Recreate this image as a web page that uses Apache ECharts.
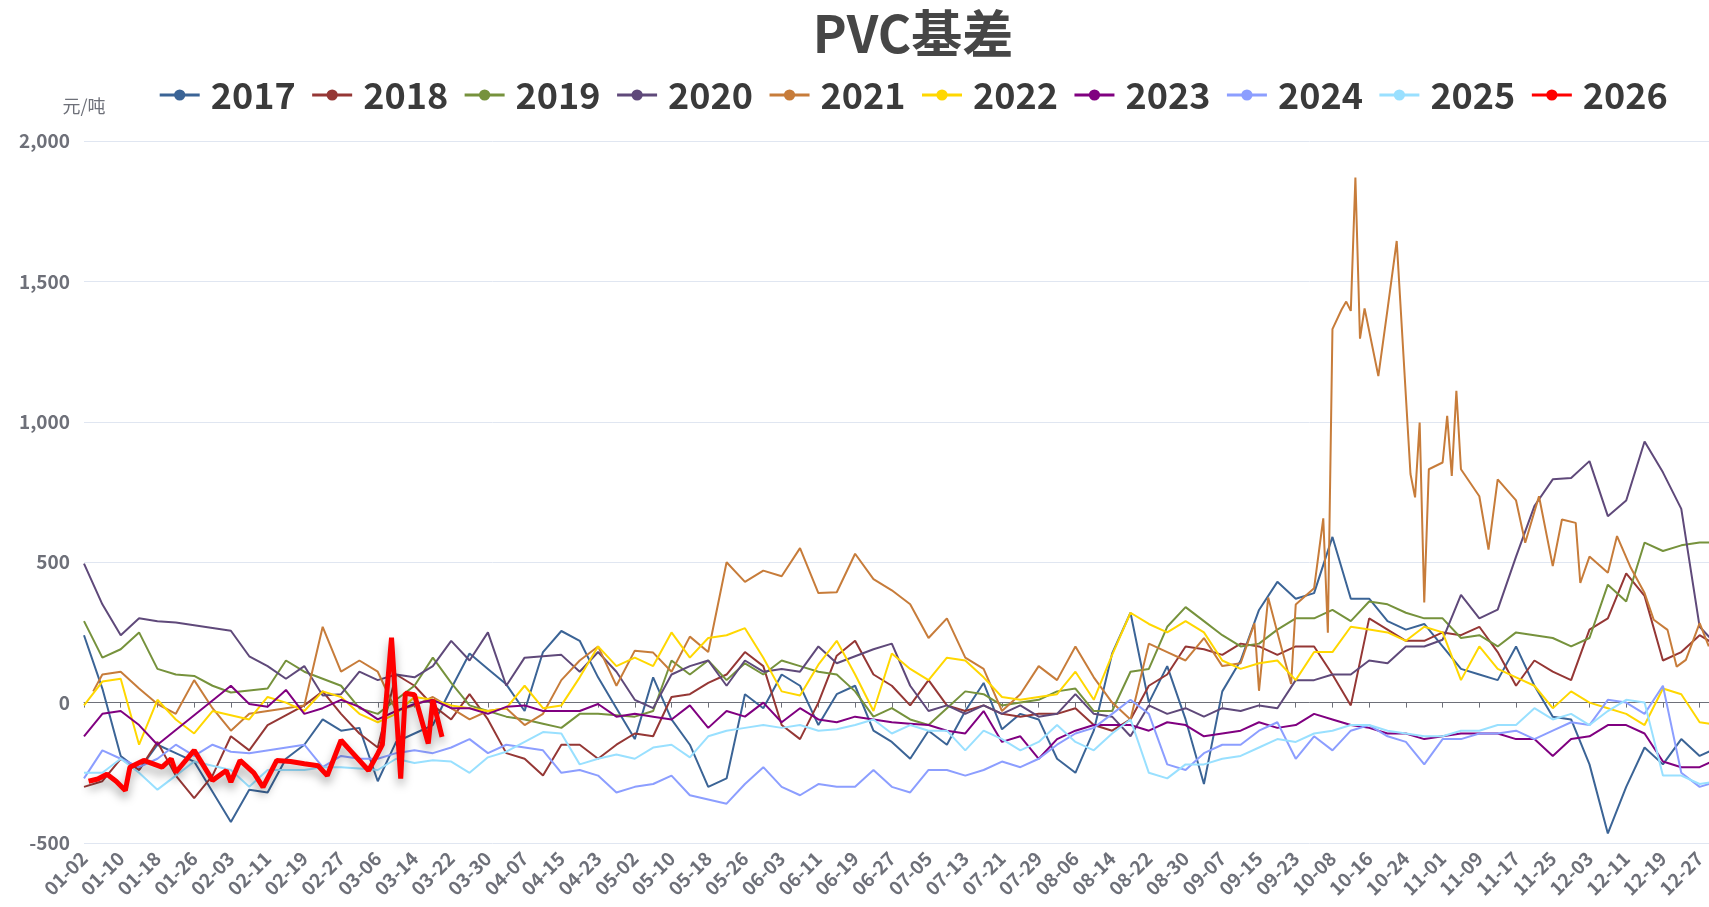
<!DOCTYPE html>
<html>
<head>
<meta charset="utf-8">
<script src="https://cdn.jsdelivr.net/npm/echarts@6/dist/echarts.min.js"></script>
<style>
html,body{margin:0;padding:0;overflow:hidden;background:#fff;}
#c{width:1826px;height:907px;}
</style>
</head>
<body>
<div id="c"></div>
<script>
// ---- categories: calendar days (leap year) without 01-01, 05-01, 10-01..10-07
const pad = n => (n < 10 ? '0' : '') + n;
const categories = [];
for (let d = new Date(2024, 0, 2); d <= new Date(2024, 11, 31); d.setDate(d.getDate() + 1)) {
  const m = d.getMonth() + 1, dd = d.getDate();
  if ((m === 5 && dd === 1) || (m === 10 && dd <= 7)) continue;
  categories.push(pad(m) + '-' + pad(dd));
}
// sampled dates: every 4th category
const sampleDates = categories.filter((c, i) => i % 4 === 0);

const years = ['2017','2018','2019','2020','2021','2022','2023','2024','2025','2026'];
const colors = ['#3B6496','#953735','#76923C','#5F497A','#C77C3A','#FFD700','#800080','#8C9EFF','#99E0FF','#FF0000'];
const yTicks = { min: -500, max: 2000, interval: 500 };

const v2017 = [240,50,-190,-240,-150,-180,-210,null,-425,-310,-320,-200,-150,-60,-100,
-90,-280,-140,-110,-80,50,175,120,65,-30,180,255,220,90,-20,
-130,90,-60,-150,-300,-270,30,-20,100,60,-80,30,60,-100,-140,
-200,-100,-150,-30,70,-95,-40,-60,-200,-250,-100,175,320,0,130,
-60,-290,40,150,330,430,370,390,590,370,370,290,260,280,
200,120,100,80,200,60,-50,-60,-220,-466,-300,-160,-220,-130,-190,-160];

const v2018 = [-300,-280,-200,-240,-140,-260,-340,-260,-120,-170,-80,null,-10,40,-40,
-110,-160,100,60,-10,-60,30,-60,-180,-200,-260,-150,-150,-200,-150,
-110,-120,20,30,70,100,180,130,-80,-130,0,167,220,100,60,
-10,80,-10,-30,-10,-40,-50,-40,-40,-20,-80,-100,-60,60,100,
200,190,170,210,200,170,200,200,100,-10,300,260,220,220,
250,240,270,180,60,150,110,80,260,300,460,380,150,180,240,200];

const v2019 = [290,160,190,250,120,100,95,60,36,null,50,150,110,85,60,
-20,-40,10,60,160,70,-10,-30,-50,-60,-75,-90,-40,-40,-45,
-50,-30,150,100,150,80,140,100,150,130,110,100,40,-50,-20,
-60,-80,-20,40,30,-10,0,10,40,50,-30,-30,110,120,270,
340,290,240,200,210,260,300,300,330,290,360,350,320,300,
300,230,240,200,250,240,230,200,230,420,360,570,540,560,570,570];

const v2020 = [495,350,240,300,290,285,null,null,256,165,130,85,130,25,30,
110,80,100,90,130,220,150,250,60,160,165,170,110,180,110,
10,-20,100,130,150,60,150,110,120,110,200,140,165,190,210,
60,-30,-10,-40,-10,-40,-10,-50,-40,30,-40,-50,-120,-10,-40,
-20,-50,-20,-30,-10,-20,80,80,100,100,150,140,200,200,
224,384,300,331,520,700,795,800,860,664,720,930,820,690,270,200];

const d2021 = ['01-04','01-06','01-10','01-14','01-18','01-22','01-26','01-30','02-03','02-07','02-19','02-23','02-27',
'03-02','03-06','03-10','03-14','03-18','03-22','03-26','03-30','04-03','04-07','04-11','04-15','04-19','04-23','04-27',
'05-02','05-06','05-10','05-14','05-18','05-22','05-26','05-30','06-03','06-07','06-11','06-15','06-19','06-23','06-27',
'07-01','07-05','07-09','07-13','07-17','07-21','07-25','07-29','08-02','08-06','08-10','08-14','08-18','08-22','08-26',
'08-30','09-03','09-07','09-11','09-14','09-15','09-17','09-19','09-22','09-23','09-27','09-29','09-30',
'10-08','10-10','10-11','10-12','10-13','10-14','10-15','10-18','10-20','10-22','10-25','10-26','10-27','10-28','10-29',
'11-01','11-02','11-03','11-04','11-05','11-09','11-11','11-13','11-17','11-19','11-22','11-25','11-27','11-30',
'12-01','12-03','12-07','12-09','12-12','12-15','12-17','12-20','12-22','12-24','12-27','12-29'];
const v2021 = [40,100,110,50,-5,-40,80,-20,-100,-40,-10,270,110,
150,110,-30,-10,20,-20,-60,-30,-20,-80,-40,80,150,200,60,
185,178,110,235,180,500,430,470,450,550,390,393,530,440,400,
350,230,300,160,120,-30,30,130,80,200,90,0,-60,210,180,
150,230,130,140,282,42,374,250,66,349,407,656,249,
1330,1400,1428,1395,1870,1296,1404,1163,1400,1644,814,731,997,357,831,
855,1021,807,1110,831,735,545,795,720,569,735,486,652,640,
426,520,462,593,480,390,295,259,128,152,283,200];

const v2022 = [-10,75,85,-150,10,-60,-110,-30,null,-60,20,0,-30,40,20,
-40,-70,-40,20,10,-10,-20,-30,-20,60,-20,-10,90,200,130,
160,130,250,160,230,240,265,160,40,25,135,220,100,-30,175,
120,80,160,150,90,20,10,20,30,110,10,170,320,280,250,
290,250,150,120,140,150,80,180,180,270,260,250,220,270,
250,80,200,120,90,60,-20,40,0,-20,-40,-80,50,30,-70,-80];

const v2023 = [-120,-40,-30,-80,-150,null,null,null,60,-5,-15,45,-40,-20,10,
-15,-60,-30,-5,10,-20,-20,-40,-15,-10,-30,-30,-30,-5,-50,
-40,-50,-60,-10,-90,-30,-50,0,-70,-20,-60,-70,-50,-60,-70,
-75,-80,-100,-110,-30,-140,-120,-200,-130,-100,-80,-80,-80,-100,-70,
-80,-120,-110,-100,-70,-90,-80,-40,-60,-80,-90,-110,-110,-130,
-120,-110,-110,-110,-130,-130,-190,-130,-120,-80,-80,-110,-210,-230,-230,-200];

const v2024 = [-270,-170,-200,-230,-200,-150,-190,-150,-175,-180,null,null,-150,-230,-190,
-200,-200,-180,-170,-180,-160,-130,-180,-150,-160,-170,-250,-240,-260,-320,
-300,-290,-260,-330,-345,-360,-290,-230,-300,-330,-290,-300,-300,-240,-300,
-320,-240,-240,-260,-240,-210,-230,-200,-150,-110,-90,-40,10,-40,-220,
-240,-180,-150,-150,-100,-70,-200,-120,-170,-100,-80,-120,-140,-220,
-130,-130,-110,-110,-100,-130,-100,-70,-80,10,0,-40,60,-250,-300,-280];

const v2025 = [-250,-250,-200,-250,-310,-260,-210,null,-240,-300,-240,-240,-240,-230,-230,
-235,-240,-200,-215,-205,-210,-250,-195,-175,-140,-105,-110,-220,-200,-185,
-200,-160,-150,-195,-120,-100,-90,-80,-90,-80,-100,-95,-80,-60,-110,
-80,-100,-100,-170,-100,-130,-170,-140,-80,-140,-170,-110,-60,-250,-270,
-220,-220,-200,-190,-160,-130,-140,-110,-100,-80,-80,-100,-110,-120,
-120,-100,-100,-80,-80,-20,-60,-40,-80,-30,10,0,-260,-260,-290,-280];

const d2026 = ['01-03','01-05','01-07','01-09','01-11','01-12','01-15','01-19','01-21','01-22','01-26','01-30',
'02-02','02-03','02-05','02-08','02-10','02-13','02-16','02-19','02-22','02-24','02-27','02-29',
'03-04','03-06','03-07','03-09','03-11','03-12','03-14','03-17','03-18','03-20'];
const v2026 = [-280,-272,-255,-280,-313,-230,-206,-230,-200,-248,-170,-277,
-242,-283,-206,-250,-301,-206,-210,-218,-225,-260,-134,-170,
-242,-182,-150,231,-271,33,28,-146,10,-122];

const gridVals = { '2017': v2017, '2018': v2018, '2019': v2019, '2020': v2020,
  '2022': v2022, '2023': v2023, '2024': v2024, '2025': v2025 };

function seriesData(y) {
  if (y === '2021') return d2021.map((d, i) => [d, v2021[i]]);
  if (y === '2026') return d2026.map((d, i) => [d, v2026[i]]);
  return sampleDates.map((d, i) => [d, gridVals[y][i]]);
}

const series = years.map((y, i) => ({
  name: y,
  type: 'line',
  xAxisIndex: 0,
  data: seriesData(y),
  symbol: 'circle',
  symbolSize: 8,
  showSymbol: false,
  connectNulls: true,
  color: colors[i],
  lineStyle: y === '2026'
    ? { width: 5, color: colors[i], shadowColor: 'rgba(0,0,0,0.35)', shadowBlur: 10, shadowOffsetY: 6 }
    : { width: 2, color: colors[i] },
  z: i + 2
}));

const chart = echarts.init(document.getElementById('c'));
const axisFont = { color: '#6E7079', fontSize: 19, fontWeight: 'bold', fontFamily: 'Noto Sans CJK SC' };
chart.setOption({
  animation: false,
  title: {
    text: 'PVC基差', left: 'center', top: 3,
    textStyle: { fontSize: 51, fontWeight: 'bold', color: '#464646', fontFamily: 'Noto Sans CJK SC' }
  },
  legend: {
    data: years, top: 72, left: 'center',
    itemWidth: 40, itemHeight: 14, itemGap: 15,
    lineStyle: { width: 3 },
    textStyle: { fontSize: 36, fontWeight: 'bold', color: '#3a3a3a', fontFamily: 'Noto Sans CJK SC', padding: [0, 0, 0, 6] }
  },
  grid: { left: 84, right: 108, top: 141, bottom: 64 },
  xAxis: [{
    type: 'category', data: categories, boundaryGap: false, position: 'bottom',
    axisLine: { show: false, onZero: false }, axisTick: { show: false },
    axisLabel: Object.assign({ interval: 7, rotate: 45, margin: 12 }, axisFont),
    splitLine: { show: false }
  }, {
    type: 'category', data: categories, boundaryGap: false, position: 'bottom',
    axisLine: { show: true, onZero: true, lineStyle: { color: '#6E7079', width: 1 } },
    axisTick: { show: true, interval: 7, length: 5, lineStyle: { color: '#6E7079' } },
    axisLabel: { show: false }, splitLine: { show: false }
  }],
  yAxis: {
    type: 'value', min: yTicks.min, max: yTicks.max, interval: yTicks.interval,
    name: '元/吨', nameGap: 26,
    nameTextStyle: { color: '#6E7079', fontSize: 18, fontFamily: 'Noto Sans CJK SC' },
    axisLine: { show: false }, axisTick: { show: false },
    axisLabel: Object.assign({ margin: 14 }, axisFont),
    splitLine: { lineStyle: { color: '#E0E6F1' } }
  },
  series: series
});
</script>
</body>
</html>
